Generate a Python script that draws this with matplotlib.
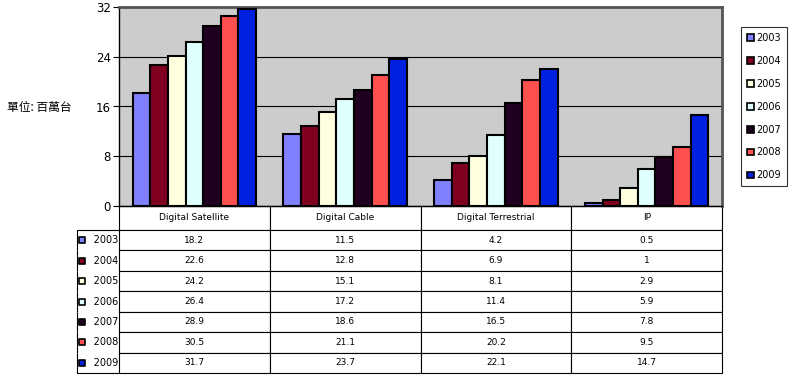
import numpy as np
import matplotlib
matplotlib.use('Agg')
import matplotlib.pyplot as plt
from matplotlib.patches import Patch

# Data
categories = ['Digital Satellite', 'Digital Cable', 'Digital Terrestrial', 'IP']
years = ['2003', '2004', '2005', '2006', '2007', '2008', '2009']
values = {
    '2003': [18.2, 11.5, 4.2, 0.5],
    '2004': [22.6, 12.8, 6.9, 1],
    '2005': [24.2, 15.1, 8.1, 2.9],
    '2006': [26.4, 17.2, 11.4, 5.9],
    '2007': [28.9, 18.6, 16.5, 7.8],
    '2008': [30.5, 21.1, 20.2, 9.5],
    '2009': [31.7, 23.7, 22.1, 14.7],
}
colors = ['#8080FF', '#800020', '#FFFFE0', '#E0FFFF', '#200020', '#FF5050', '#0020E0']
yticks = [0, 8, 16, 24, 32]

fig = plt.figure(figsize=(7.99, 3.85), dpi=100)
ax = fig.add_axes([119 / 799, 1 - 206 / 385, 603 / 799, 199 / 385])
ax.set_facecolor('#CCCCCC')

x = np.arange(len(categories))
w = 0.117
for i, yr in enumerate(years):
    ax.bar(x + (i - 3) * w, values[yr], w, color=colors[i], edgecolor='black',
           linewidth=1.5, zorder=3, label=yr)

ax.set_xlim(-0.5, len(categories) - 0.5)
ax.set_ylim(0, 32)
ax.set_yticks(yticks)
ax.set_yticklabels([str(t) for t in yticks], fontsize=8.5)
ax.tick_params(axis='y', length=4, width=0.8, pad=2)
ax.set_xticks([])
ax.grid(axis='y', color='black', linewidth=0.8, zorder=1)
ax.spines['top'].set_color('#555555')
ax.spines['top'].set_linewidth(2)
ax.spines['right'].set_color('#555555')
ax.spines['right'].set_linewidth(2)
ax.spines['left'].set_linewidth(1)
ax.spines['bottom'].set_linewidth(1)

# Data table below the axes; row labels hang off to the left
cell_text = [[('%g' % v) for v in values[yr]] for yr in years]
label_w = 43 / 603
col_w = 1 / len(categories)
head_h, row_h = 24 / 199, 20.43 / 199
tbl = ax.table(cellText=cell_text, rowLabels=['     ' + y for y in years],
               colLabels=categories, cellLoc='center', rowLoc='left',
               loc='bottom')
tbl.auto_set_font_size(False)
tbl.set_fontsize(6.5)
n = len(years)
for (r, c), cell in tbl.get_celld().items():
    cell.set_linewidth(0.8)
    cell.set_facecolor('white')
    cell.set_width(label_w if c == -1 else col_w)
    cell.set_height(head_h if r == 0 else row_h)
    if c == -1:
        cell.PAD = 0.02
        cell.get_text().set_fontsize(7)
        edges = 'L'
        if r == 1:
            edges += 'T'
        if r == n:
            edges += 'B'
        cell.visible_edges = edges

# colored markers in row labels
for i, yr in enumerate(years):
    yc = -(head_h + row_h * (i + 0.5))
    ax.scatter([(82 - 119) / 603], [yc], marker='s', s=14, color=colors[i],
               edgecolor='black', linewidth=1.2, transform=ax.transAxes,
               clip_on=False, zorder=5)

# y label
fig.text(7 / 799, 1 - 107 / 385, '單位: 百萬台', fontsize=8.5,
         family=['Noto Sans CJK TC', 'DejaVu Sans'], va='center', ha='left')

# legend
handles = [Patch(facecolor=colors[i], edgecolor='black', linewidth=1.2, label=yr)
           for i, yr in enumerate(years)]
leg = fig.legend(handles=handles, loc='upper left',
                 bbox_to_anchor=(741 / 799, 1 - 27 / 385), fontsize=7,
                 frameon=True, fancybox=False, edgecolor='black',
                 handlelength=0.7, handleheight=0.7, handletextpad=0.3,
                 labelspacing=1.33, borderpad=0.6, borderaxespad=0)
leg.get_frame().set_linewidth(0.8)

fig.savefig('out.png', dpi=100)
